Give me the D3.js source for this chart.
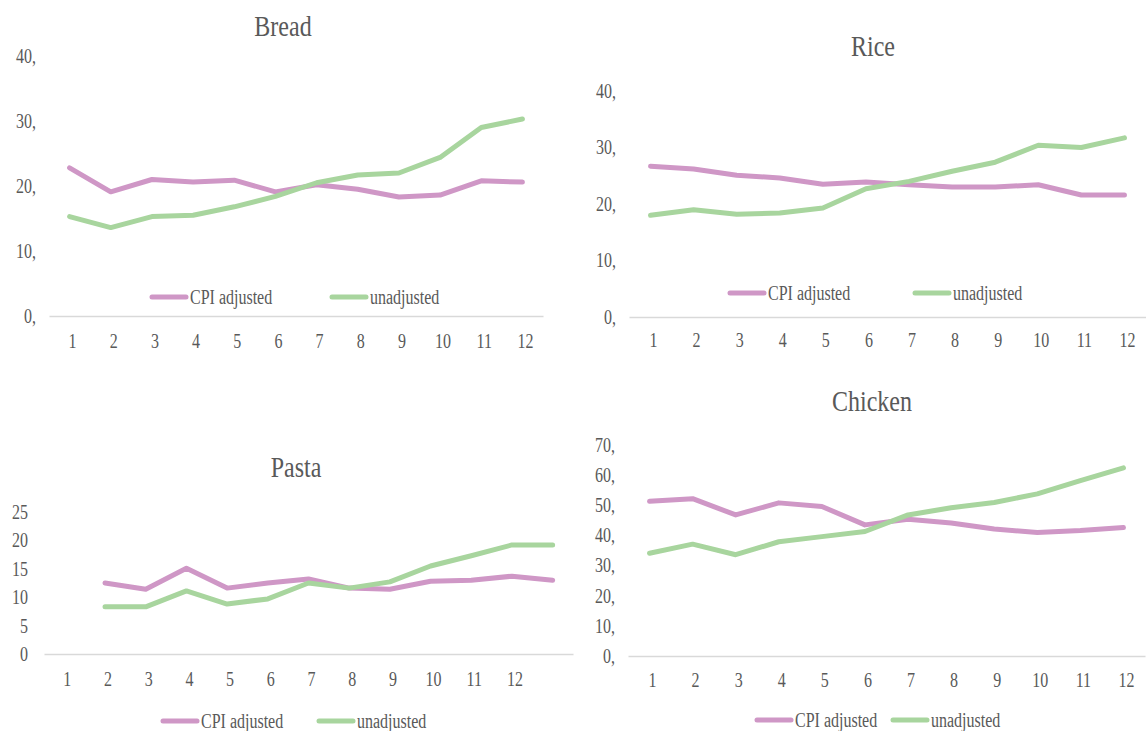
<!DOCTYPE html>
<html>
<head>
<meta charset="utf-8">
<script src="https://cdn.jsdelivr.net/npm/d3@7"></script>
<style>
  html, body { margin: 0; padding: 0; background: #ffffff; }
  svg { display: block; }
  svg text { font-family: "Liberation Serif", "Times New Roman", Tinos, "Noto Serif", "DejaVu Serif", serif; }
</style>
</head>
<body>
<svg id="chart" width="1146" height="731"></svg>
<script>
// Month index labels shared by the four panels
const months = ["1", "2", "3", "4", "5", "6", "7", "8", "9", "10", "11", "12"];
// Pasta uses one extra, unlabelled slot at the end
const pastaSlots = ["1", "2", "3", "4", "5", "6", "7", "8", "9", "10", "11", "12", ""];

const seriesNames = ["CPI adjusted", "unadjusted"];

// Prices per month
const breadCPI = [22.8, 19.1, 21.0, 20.6, 20.9, 19.1, 20.2, 19.5, 18.3, 18.6, 20.8, 20.6];
const breadRaw = [15.3, 13.6, 15.3, 15.5, 16.8, 18.4, 20.5, 21.7, 22.0, 24.4, 29.0, 30.3];

const riceCPI = [26.7, 26.2, 25.1, 24.6, 23.5, 23.9, 23.4, 23.0, 23.0, 23.4, 21.6, 21.6];
const riceRaw = [18.0, 19.0, 18.2, 18.4, 19.3, 22.7, 24.0, 25.8, 27.4, 30.4, 30.0, 31.7];

const pastaCPI = [null, 12.5, 11.4, 15.1, 11.6, 12.5, 13.2, 11.6, 11.4, 12.8, 13.0, 13.7, 13.0];
const pastaRaw = [null, 8.3, 8.3, 11.1, 8.8, 9.7, 12.5, 11.6, 12.7, 15.5, 17.3, 19.2, 19.2];

const chickenCPI = [51.3, 52.2, 46.8, 50.8, 49.6, 43.5, 45.4, 44.1, 42.1, 41.0, 41.6, 42.6];
const chickenRaw = [34.1, 37.1, 33.6, 37.9, 39.6, 41.3, 46.8, 49.2, 50.9, 53.8, 58.2, 62.4];

// Value-axis ticks
const breadTicks = [0, 10, 20, 30, 40];
const riceTicks = [0, 10, 20, 30, 40];
const pastaTicks = [0, 5, 10, 15, 20, 25];
const chickenTicks = [0, 10, 20, 30, 40, 50, 60, 70];

const COLORS = ["#cf97c6", "#a8d59e"];
const TEXT = "#595959";
const AXIS = "#d9d9d9";
const SQUEEZE = 0.8; // horizontal text compression

const svg = d3.select("#chart");
svg.append("rect").attr("width", 1146).attr("height", 731).attr("fill", "#fff");

const panels = [
  { title: "Bread", cats: months, series: [breadCPI, breadRaw], yMax: 40, ticks: breadTicks, comma: true,
    x0: 49, x1: 543, yTop: 56, yBot: 316, titleX: 283, titleY: 36, yLabelX: 36, xLabelY: 348,
    legendY: 297, legendX: [152, 332] },
  { title: "Rice", cats: months, series: [riceCPI, riceRaw], yMax: 40, ticks: riceTicks, comma: true,
    x0: 629, x1: 1146, yTop: 91, yBot: 317, titleX: 873, titleY: 56, yLabelX: 616, xLabelY: 347,
    legendY: 293, legendX: [730, 915] },
  { title: "Pasta", cats: pastaSlots, series: [pastaCPI, pastaRaw], yMax: 25, ticks: pastaTicks, comma: false,
    x0: 44, x1: 573, yTop: 512, yBot: 654, titleX: 296, titleY: 477, yLabelX: 28, xLabelY: 686,
    legendY: 721, legendX: [163, 319] },
  { title: "Chicken", cats: months, series: [chickenCPI, chickenRaw], yMax: 70, ticks: chickenTicks, comma: true,
    x0: 628, x1: 1145, yTop: 445, yBot: 656, titleX: 872, titleY: 411, yLabelX: 615, xLabelY: 687,
    legendY: 720, legendX: [757, 893] }
];

function drawPanel(p) {
  const g = svg.append("g");
  const x = d3.scaleBand().domain(d3.range(p.cats.length)).range([p.x0, p.x1]);
  const y = d3.scaleLinear().domain([0, p.yMax]).range([p.yBot, p.yTop]);

  // Category axis: thin grey baseline plus month labels
  const xa = g.append("g")
    .attr("transform", `translate(0,${p.yBot})`)
    .call(d3.axisBottom(x).tickSize(0).tickSizeOuter(0).tickFormat(i => p.cats[i]));
  xa.attr("font-family", null).attr("font-size", 20);
  xa.select(".domain").attr("stroke", AXIS).attr("stroke-width", 1.5);
  xa.selectAll("text")
    .attr("y", 0).attr("dy", 0)
    .attr("fill", TEXT)
    .attr("transform", `translate(3,${p.xLabelY - p.yBot}) scale(${SQUEEZE},1)`);

  // Value axis labels only
  const ya = g.append("g")
    .attr("transform", `translate(${p.yLabelX},0)`)
    .call(d3.axisLeft(y).tickValues(p.ticks).tickSize(0).tickPadding(0)
      .tickFormat(d => p.comma ? d + "," : String(d)));
  ya.attr("font-family", null).attr("font-size", 20);
  ya.select(".domain").remove();
  ya.selectAll("text")
    .attr("x", 0)
    .attr("fill", TEXT)
    .attr("transform", `scale(${SQUEEZE},1)`);

  // Title
  g.append("text")
    .attr("transform", `translate(${p.titleX},${p.titleY}) scale(${SQUEEZE},1)`)
    .attr("text-anchor", "middle")
    .attr("font-size", 30)
    .attr("fill", TEXT)
    .text(p.title);

  // Series lines
  const line = d3.line()
    .defined(d => d != null)
    .x((d, i) => x(i) + x.bandwidth() / 2)
    .y(d => y(d));

  p.series.forEach((vals, k) => {
    g.append("path")
      .datum(vals)
      .attr("d", line)
      .attr("fill", "none")
      .attr("stroke", COLORS[k])
      .attr("stroke-width", 5)
      .attr("stroke-linecap", "round")
      .attr("stroke-linejoin", "round");
  });

  // Legend
  seriesNames.forEach((name, k) => {
    const lx = p.legendX[k];
    g.append("line")
      .attr("x1", lx).attr("x2", lx + 34)
      .attr("y1", p.legendY).attr("y2", p.legendY)
      .attr("stroke", COLORS[k])
      .attr("stroke-width", 5)
      .attr("stroke-linecap", "round");
    g.append("text")
      .attr("transform", `translate(${lx + 38},${p.legendY + 7}) scale(${SQUEEZE},1)`)
      .attr("font-size", 20)
      .attr("fill", TEXT)
      .text(name);
  });
}

panels.forEach(drawPanel);
</script>
</body>
</html>
